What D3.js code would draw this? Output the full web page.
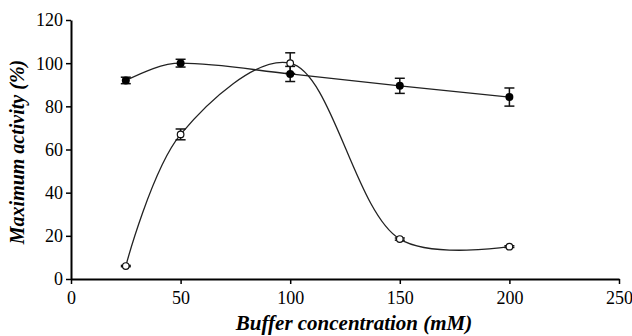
<!DOCTYPE html>
<html><head><meta charset="utf-8">
<script src="https://cdn.jsdelivr.net/npm/d3@7"></script>
<style>body{margin:0;background:#fff}svg{display:block}</style>
</head><body><svg id="c" width="632" height="336" font-family="Liberation Serif"></svg>
<script>
const conc = [25, 50, 100, 150, 200];
const filledVals = [92, 100, 95, 89.5, 84.3];
const filledErr = [1.5, 1.8, 3.5, 3.5, 4.2];
const openVals = [6, 67, 100, 18.5, 15];
const openErr = [0.3, 2.5, 4.8, 0.5, 0.4];
const xTicks = [0, 50, 100, 150, 200, 250];
const yTicks = [0, 20, 40, 60, 80, 100, 120];

const FONT = "Liberation Serif";
const svg = d3.select("#c");
const x = d3.scaleLinear().domain([0, 250]).range([71, 619]);
const y = d3.scaleLinear().domain([0, 120]).range([279, 20]);

const xa = svg.append("g").attr("transform", "translate(0,279)")
  .call(d3.axisBottom(x).tickValues(xTicks).tickSize(5).tickSizeOuter(0).tickPadding(5));
const ya = svg.append("g").attr("transform", "translate(71,0)")
  .call(d3.axisLeft(y).tickValues(yTicks).tickSize(5).tickSizeOuter(0).tickPadding(3));
[xa, ya].forEach(g => {
  g.attr("font-family", FONT).attr("font-size", 18);
  g.select(".domain").attr("stroke", "#000").attr("stroke-width", 2);
  g.selectAll(".tick line").attr("stroke", "#000").attr("stroke-width", 1.5);
  g.selectAll(".tick text").attr("font-family", FONT).attr("font-size", 18).attr("fill", "#000");
});
xa.selectAll(".tick text").attr("dy", "0.85em");
ya.selectAll(".tick text").attr("dy", "0.33em");

const filled = conc.map((c, i) => ({x: c, y: filledVals[i], e: filledErr[i]}));
const open = conc.map((c, i) => ({x: c, y: openVals[i], e: openErr[i]}));

svg.append("path").datum(filled).attr("fill", "none").attr("stroke", "#222").attr("stroke-width", 1.3)
  .attr("d", d3.line().x(d => x(d.x)).y(d => y(d.y)).curve(d3.curveMonotoneX));
svg.append("path").datum(open).attr("fill", "none").attr("stroke", "#222").attr("stroke-width", 1.3)
  .attr("d", d3.line().x(d => x(d.x)).y(d => y(d.y)).curve(d3.curveCatmullRom.alpha(0.5)));

function errBars(data) {
  const g = svg.append("g").attr("stroke", "#111").attr("stroke-width", 1.5);
  data.forEach(d => {
    g.append("line").attr("x1", x(d.x)).attr("x2", x(d.x)).attr("y1", y(d.y - d.e)).attr("y2", y(d.y + d.e));
    g.append("line").attr("x1", x(d.x) - 5).attr("x2", x(d.x) + 5).attr("y1", y(d.y - d.e)).attr("y2", y(d.y - d.e));
    g.append("line").attr("x1", x(d.x) - 5).attr("x2", x(d.x) + 5).attr("y1", y(d.y + d.e)).attr("y2", y(d.y + d.e));
  });
}
errBars(filled);
errBars(open);

svg.append("g").selectAll("circle").data(filled).join("circle")
  .attr("cx", d => x(d.x)).attr("cy", d => y(d.y)).attr("r", 4).attr("fill", "#000");
svg.append("g").selectAll("circle").data(open).join("circle")
  .attr("cx", d => x(d.x)).attr("cy", d => y(d.y)).attr("r", 3.3).attr("fill", "#fff")
  .attr("stroke", "#111").attr("stroke-width", 1.2);

svg.append("text").attr("x", 354).attr("y", 330).attr("text-anchor", "middle")
  .attr("font-family", FONT)
  .attr("font-size", 21).attr("font-weight", "bold").attr("font-style", "italic")
  .text("Buffer concentration (mM)");
svg.append("text").attr("transform", "translate(24,152) rotate(-90)").attr("text-anchor", "middle")
  .attr("font-family", FONT)
  .attr("font-size", 20).attr("font-weight", "bold").attr("font-style", "italic")
  .text("Maximum activity (%)");
</script></body></html>
